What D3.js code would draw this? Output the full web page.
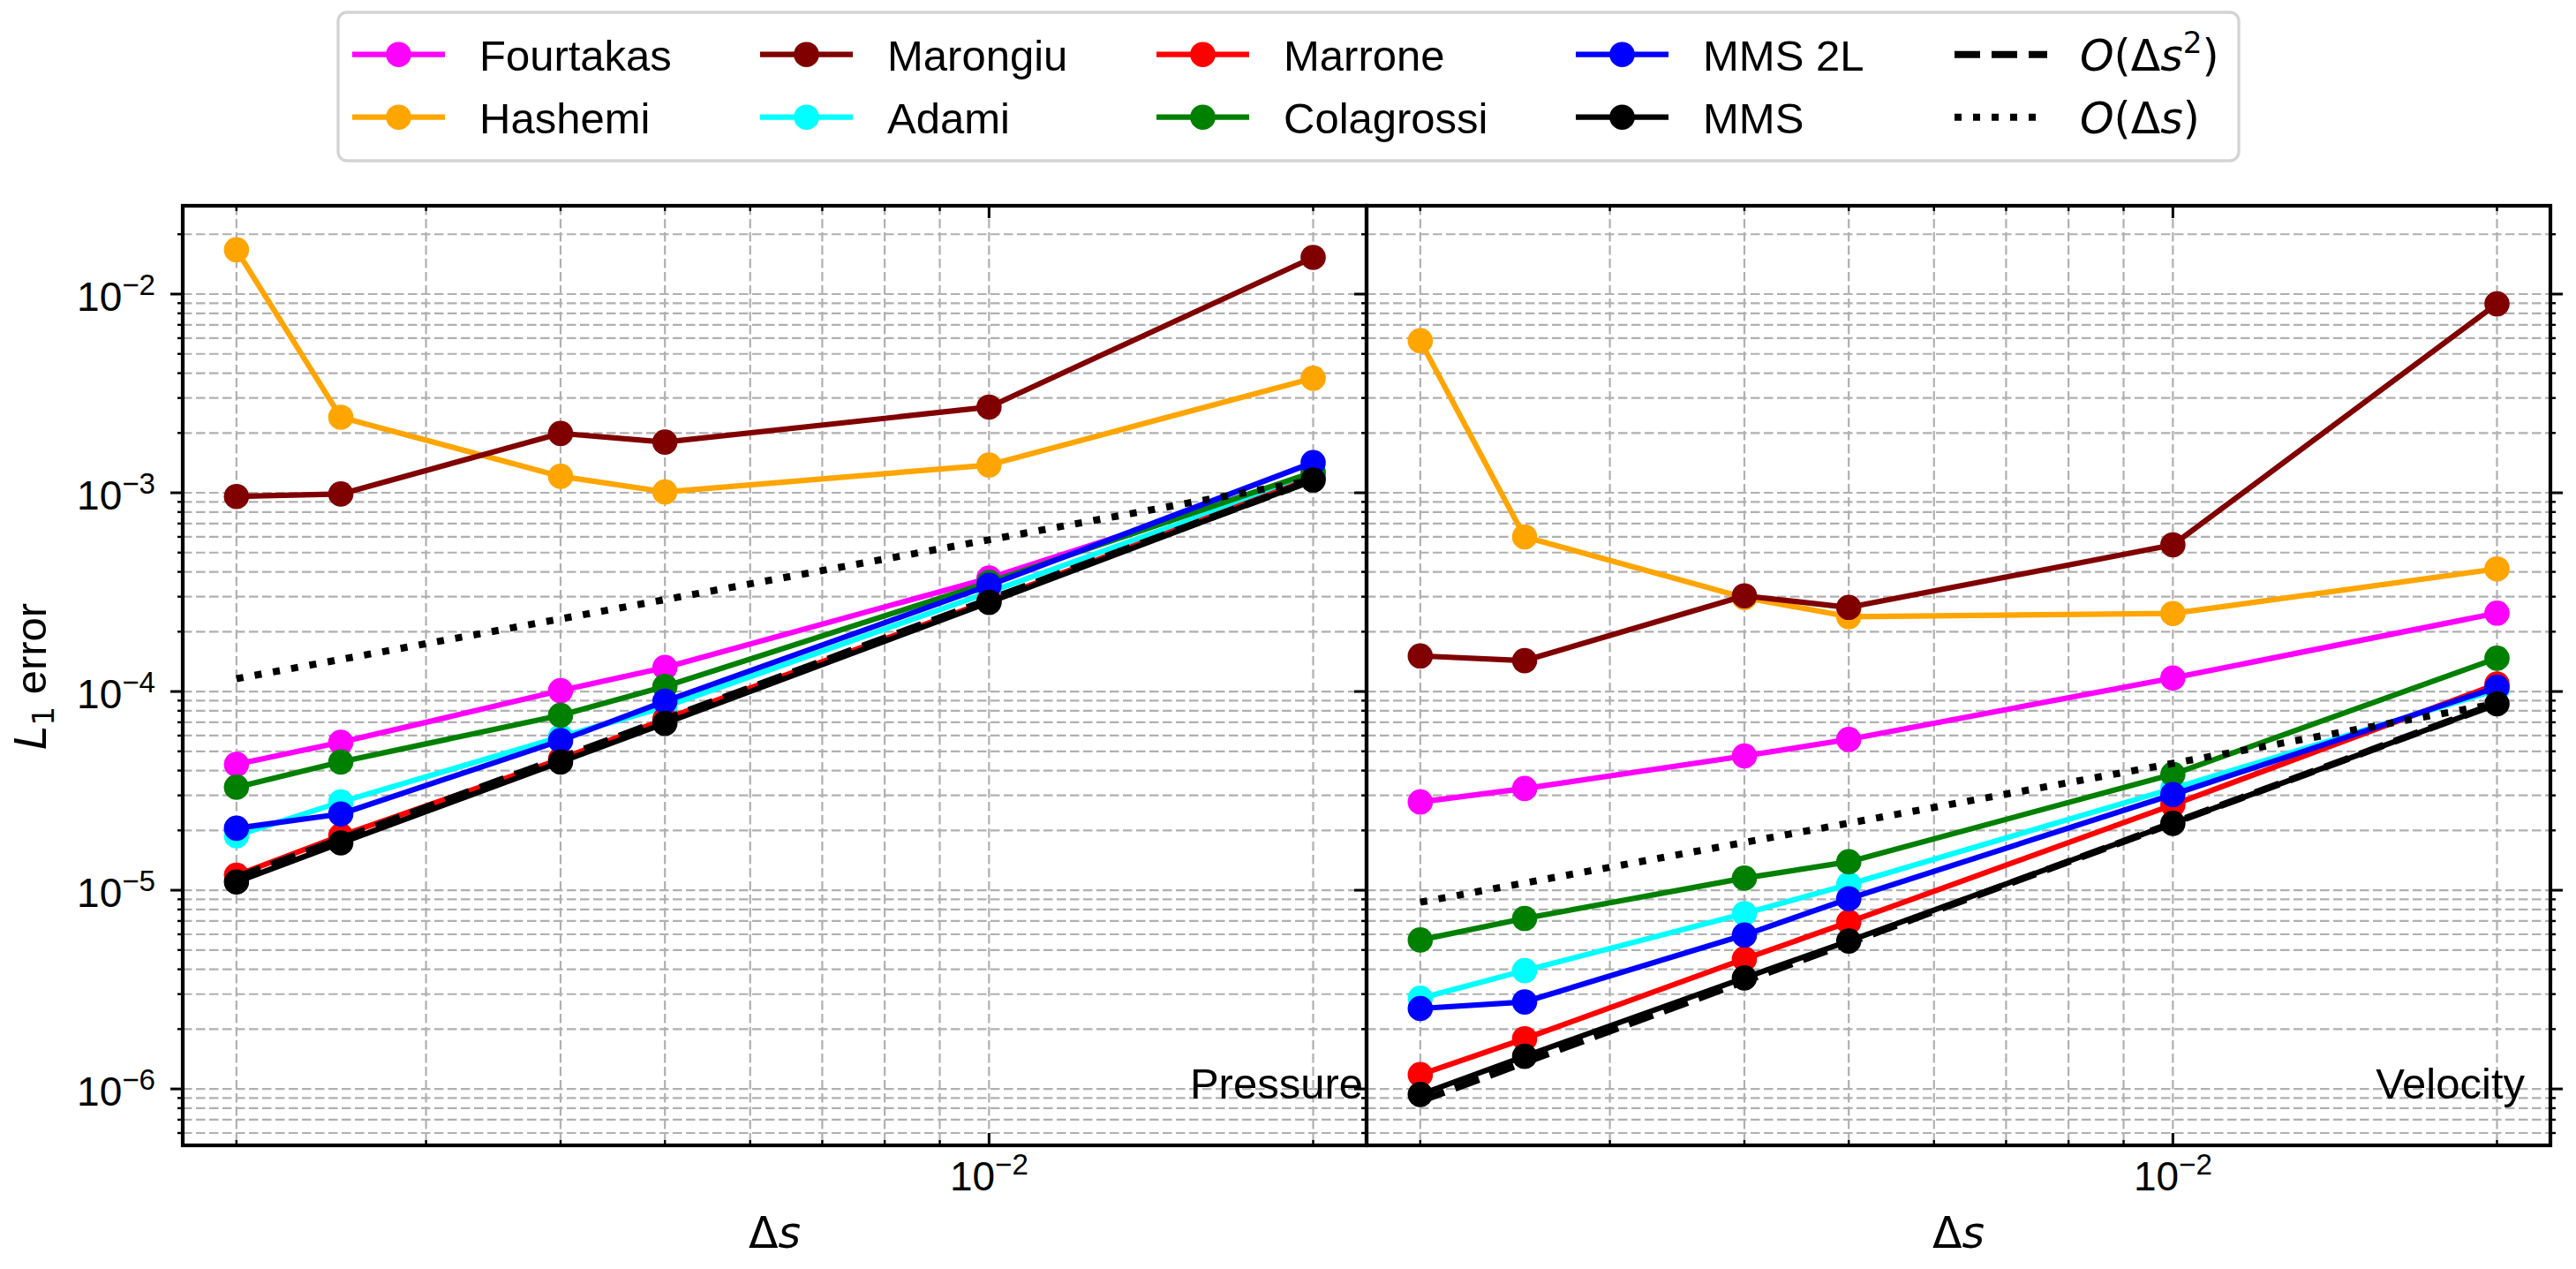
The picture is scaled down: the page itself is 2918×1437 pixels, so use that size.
<!DOCTYPE html>
<html>
<head>
<meta charset="utf-8">
<script src="https://cdn.jsdelivr.net/npm/d3@7"></script>
<style>
  body { margin: 0; background: #fff; }
  text { font-family: "Liberation Sans", Arial, Helvetica, sans-serif; fill: #000; }
  .math { font-family: "DejaVu Sans", sans-serif; }
</style>
</head>
<body>
<div id="chart"></div>
<script>
// grid spacing values (delta s)
const ds = [0.002, 0.0025, 0.004, 0.005, 0.01, 0.02];

const methods = ["Fourtakas", "Hashemi", "Marongiu", "Adami", "Marrone", "Colagrossi", "MMS 2L", "MMS"];
const colors = ["#ff00ff", "#ffa500", "#800000", "#00ffff", "#ff0000", "#008000", "#0000ff", "#000000"];

// pressure L1 errors
const pFourtakas  = [4.30e-5, 5.55e-5, 1.01e-4, 1.32e-4, 3.72e-4, 1.25e-3];
const pHashemi    = [1.67e-2, 2.40e-3, 1.21e-3, 1.01e-3, 1.38e-3, 3.77e-3];
const pMarongiu   = [9.58e-4, 9.86e-4, 1.99e-3, 1.80e-3, 2.70e-3, 1.53e-2];
const pAdami      = [1.88e-5, 2.78e-5, 5.91e-5, 8.37e-5, 3.16e-4, 1.22e-3];
const pMarrone    = [1.19e-5, 1.88e-5, 4.57e-5, 7.26e-5, 2.86e-4, 1.19e-3];
const pColagrossi = [3.30e-5, 4.42e-5, 7.59e-5, 1.06e-4, 3.54e-4, 1.27e-3];
const pMms2L      = [2.05e-5, 2.42e-5, 5.66e-5, 8.93e-5, 3.42e-4, 1.42e-3];
const pMms        = [1.10e-5, 1.73e-5, 4.42e-5, 6.92e-5, 2.81e-4, 1.16e-3];

// velocity L1 errors
const vFourtakas  = [2.78e-5, 3.25e-5, 4.74e-5, 5.74e-5, 1.17e-4, 2.48e-4];
const vHashemi    = [5.82e-3, 6.00e-4, 2.97e-4, 2.38e-4, 2.47e-4, 4.14e-4];
const vMarongiu   = [1.51e-4, 1.43e-4, 3.03e-4, 2.65e-4, 5.47e-4, 8.93e-3];
const vAdami      = [2.86e-6, 3.94e-6, 7.63e-6, 1.07e-5, 3.25e-5, 1.02e-4];
const vMarrone    = [1.18e-6, 1.79e-6, 4.51e-6, 6.91e-6, 2.69e-5, 1.09e-4];
const vColagrossi = [5.62e-6, 7.21e-6, 1.15e-5, 1.39e-5, 3.83e-5, 1.47e-4];
const vMms2L      = [2.54e-6, 2.74e-6, 5.95e-6, 9.06e-6, 3.03e-5, 1.05e-4];
const vMms        = [9.38e-7, 1.46e-6, 3.62e-6, 5.55e-6, 2.17e-5, 8.67e-5];

// reference slopes, end points
const refDs = [0.002, 0.02];
const pOrder1 = [1.16e-4, 1.16e-3];
const pOrder2 = [1.16e-5, 1.16e-3];
const vOrder1 = [8.7e-6, 8.7e-5];
const vOrder2 = [8.7e-7, 8.7e-5];

const panelNames = ["Pressure", "Velocity"];

const pressureVals = [pFourtakas, pHashemi, pMarongiu, pAdami, pMarrone, pColagrossi, pMms2L, pMms];
const velocityVals = [vFourtakas, vHashemi, vMarongiu, vAdami, vMarrone, vColagrossi, vMms2L, vMms];

const panels = [
  { name: panelNames[0], vals: pressureVals, o1: pOrder1, o2: pOrder2 },
  { name: panelNames[1], vals: velocityVals, o1: vOrder1, o2: vOrder2 }
];

const W = 2918, H = 1437;
const margin = { top: 233, left: 207 };
const panelW = 1341, panelH = 1064;
const fs = 49, tickFs = 46;
const lw = 6.2, refLw = 8, markR = 14.3;
const dashPat = "29,13", dotPat = "8,13";

const svg = d3.select("#chart").append("svg")
  .attr("width", W).attr("height", H);

const y = d3.scaleLog()
  .domain([Math.pow(10, -6.284), Math.pow(10, -1.5556)])
  .range([margin.top + panelH, margin.top]);

const isMajor = t => Math.abs(Math.log10(t) - Math.round(Math.log10(t))) < 1e-6;

function powLabel(sel, exp) {
  sel.append("tspan").text("10");
  sel.append("tspan").attr("font-size", "0.72em").attr("dy", -18).text("\u2212" + exp);
}

panels.forEach((p, pi) => {
  const x0 = margin.left + pi * panelW;
  const x = d3.scaleLog()
    .domain([0.001783, 0.02242])
    .range([x0, x0 + panelW]);
  const yTop = margin.top, yBot = margin.top + panelH;

  const g = svg.append("g");

  const xt = x.ticks(), yt = y.ticks();

  // grid (major + minor)
  const grid = g.append("g")
    .attr("stroke", "#b0b0b0").attr("stroke-width", 2.2).attr("stroke-dasharray", "10.5,4.5");
  grid.selectAll(".gx").data(xt).enter().append("line")
    .attr("x1", d => x(d)).attr("x2", d => x(d)).attr("y1", yTop).attr("y2", yBot);
  grid.selectAll(".gy").data(yt).enter().append("line")
    .attr("x1", x0).attr("x2", x0 + panelW).attr("y1", d => y(d)).attr("y2", d => y(d));

  const clipId = "clip" + pi;
  svg.append("clipPath").attr("id", clipId).append("rect")
    .attr("x", x0).attr("y", yTop).attr("width", panelW).attr("height", panelH);

  const line = d3.line().x(d => x(d[0])).y(d => y(d[1]));

  // series
  p.vals.forEach((vals, i) => {
    const pts = ds.map((d, k) => [d, vals[k]]);
    const sg = g.append("g").attr("clip-path", `url(#${clipId})`);
    sg.append("path").datum(pts)
      .attr("d", line).attr("fill", "none")
      .attr("stroke", colors[i]).attr("stroke-width", lw)
      .attr("stroke-linejoin", "round").attr("stroke-linecap", "butt");
    sg.selectAll("circle").data(pts).enter().append("circle")
      .attr("cx", d => x(d[0])).attr("cy", d => y(d[1]))
      .attr("r", markR).attr("fill", colors[i]);
  });

  // reference slopes
  const rg = g.append("g").attr("clip-path", `url(#${clipId})`);
  rg.append("path").datum(refDs.map((d, k) => [d, p.o2[k]]))
    .attr("d", line).attr("fill", "none").attr("stroke", "#000")
    .attr("stroke-width", refLw).attr("stroke-dasharray", dashPat);
  rg.append("path").datum(refDs.map((d, k) => [d, p.o1[k]]))
    .attr("d", line).attr("fill", "none").attr("stroke", "#000")
    .attr("stroke-width", refLw).attr("stroke-dasharray", dotPat);

  // x ticks, inward, top and bottom
  [[yBot, -1], [yTop, 1]].forEach(([yy, dir]) => {
    g.append("g").selectAll("line").data(xt).enter().append("line")
      .attr("x1", d => x(d)).attr("x2", d => x(d))
      .attr("y1", yy).attr("y2", d => yy + dir * (isMajor(d) ? 14 : 6))
      .attr("stroke", "#000").attr("stroke-width", d => isMajor(d) ? 3 : 2.4);
  });

  // y ticks, outward on the left, plus outward on the right of the last panel
  const ySides = pi === 0 ? [[x0, -1]] : [[x0, -1], [x0 + panelW, 1]];
  ySides.forEach(([xx, dir]) => {
    g.append("g").selectAll("line").data(yt).enter().append("line")
      .attr("y1", d => y(d)).attr("y2", d => y(d))
      .attr("x1", xx).attr("x2", d => xx + dir * (isMajor(d) ? 14 : 6))
      .attr("stroke", "#000").attr("stroke-width", d => isMajor(d) ? 3 : 2.4);
  });

  // spines
  g.append("rect").attr("x", x0).attr("y", yTop).attr("width", panelW).attr("height", panelH)
    .attr("fill", "none").attr("stroke", "#000").attr("stroke-width", 4.2);

  // x tick labels
  xt.filter(isMajor).forEach(t => {
    const lab = g.append("text").attr("x", x(t)).attr("y", yBot + 51)
      .attr("text-anchor", "middle").attr("font-size", tickFs);
    powLabel(lab, -Math.round(Math.log10(t)));
  });

  // y tick labels (left panel only)
  if (pi === 0) {
    yt.filter(isMajor).forEach(t => {
      const lab = g.append("text").attr("x", x0 - 31).attr("y", y(t) + 19)
        .attr("text-anchor", "end").attr("font-size", tickFs);
      powLabel(lab, -Math.round(Math.log10(t)));
    });
  }

  // x label
  const xl = g.append("text").attr("class", "math")
    .attr("x", x0 + panelW / 2).attr("y", 1413)
    .attr("text-anchor", "middle").attr("font-size", fs);
  xl.append("tspan").text("\u0394");
  xl.append("tspan").attr("font-style", "italic").text("s");

  // panel name
  g.append("text")
    .attr("x", pi === 0 ? x0 + panelW - 4 : x0 + panelW - 29).attr("y", 1244)
    .attr("text-anchor", "end").attr("font-size", fs).text(p.name);
});

// y label
const ylab = svg.append("text")
  .attr("transform", "translate(52,766) rotate(-90)")
  .attr("text-anchor", "middle").attr("font-size", fs);
ylab.append("tspan").attr("class", "math").attr("font-style", "italic").text("L");
ylab.append("tspan").attr("class", "math").attr("font-size", "0.7em").attr("dy", 9).text("1");
ylab.append("tspan").attr("dy", -9).text(" error");

// legend
const legend = svg.append("g");
legend.append("rect")
  .attr("x", 383).attr("y", 14).attr("width", 2153).attr("height", 168).attr("rx", 10)
  .attr("fill", "#fff").attr("stroke", "#d3d3d3").attr("stroke-width", 3.3);

const colX = [399, 861, 1310, 1785, 2214];
const rowY = [61.7, 132.7];
const handleLen = 105;

const items = methods.map((m, i) => ({ name: m, color: colors[i], kind: "series" }))
  .concat([{ name: "O2", kind: "dash" }, { name: "O1", kind: "dot" }]);

items.forEach((it, i) => {
  const hx = colX[Math.floor(i / 2)], hy = rowY[i % 2];
  const ig = legend.append("g");
  if (it.kind === "series") {
    ig.append("line").attr("x1", hx).attr("x2", hx + handleLen).attr("y1", hy).attr("y2", hy)
      .attr("stroke", it.color).attr("stroke-width", lw);
    ig.append("circle").attr("cx", hx + handleLen / 2).attr("cy", hy).attr("r", markR).attr("fill", it.color);
    ig.append("text").attr("x", hx + 144).attr("y", hy + 18).attr("font-size", fs).text(it.name);
  } else {
    ig.append("line").attr("x1", hx).attr("x2", hx + handleLen).attr("y1", hy).attr("y2", hy)
      .attr("stroke", "#000").attr("stroke-width", refLw)
      .attr("stroke-dasharray", it.kind === "dash" ? dashPat : dotPat);
    const t = ig.append("text").attr("class", "math").attr("x", hx + 142).attr("y", hy + 18).attr("font-size", fs);
    t.append("tspan").attr("font-style", "italic").text("O");
    t.append("tspan").text("(\u0394");
    t.append("tspan").attr("font-style", "italic").text("s");
    if (it.kind === "dash") {
      t.append("tspan").attr("font-size", "0.7em").attr("dy", -20).text("2");
      t.append("tspan").attr("dy", 20).text(")");
    } else {
      t.append("tspan").text(")");
    }
  }
});
</script>
</body>
</html>
